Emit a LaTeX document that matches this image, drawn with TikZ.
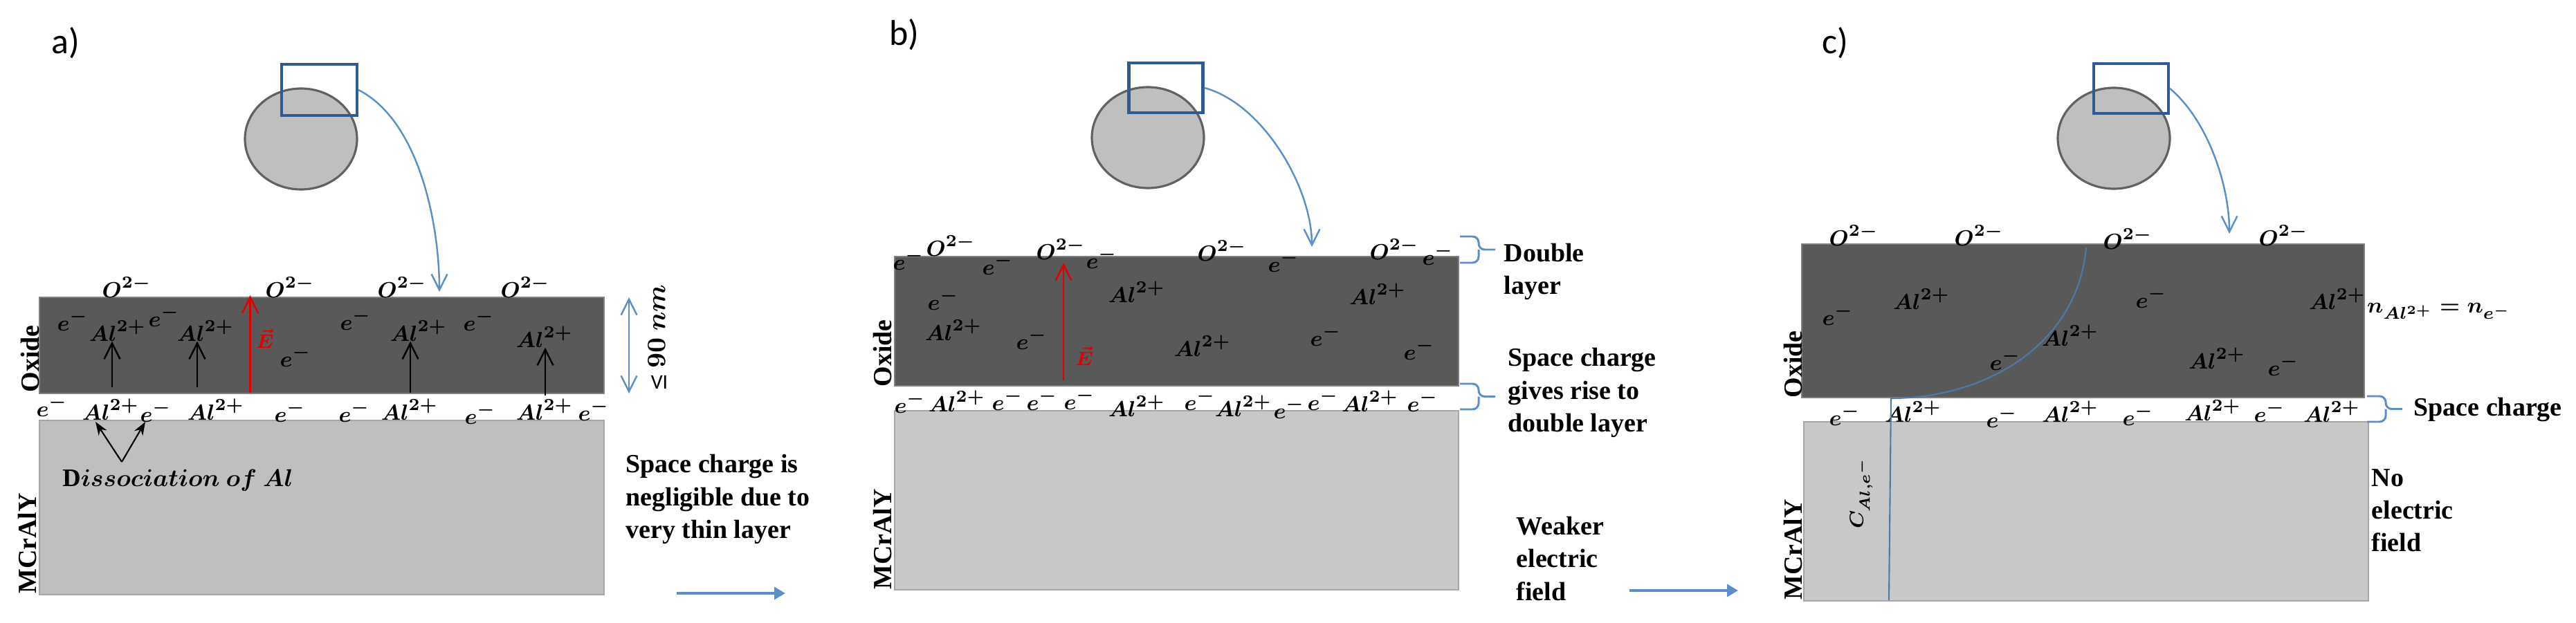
\documentclass[tikz,border=0pt]{standalone}
\usepackage{fontspec}
\setmainfont{Liberation Serif}
\newfontfamily\panelfont{Carlito}
\usetikzlibrary{arrows.meta,shapes.geometric}
\definecolor{oxidegray}{HTML}{595959}
\definecolor{metalgray}{HTML}{C8C8C8}
\definecolor{graingray}{HTML}{BFBFBF}
\definecolor{squareblue}{HTML}{2F5B94}
\definecolor{lineblue}{HTML}{5B8FC9}
\definecolor{fieldred}{HTML}{E00000}
\tikzset{
  oxidebox/.style={draw=gray,line width=0.5pt,fill=oxidegray,inner sep=0pt},
  metalbox/.style={draw=gray!70,line width=0.4pt,fill=metalgray,inner sep=0pt},
  grain/.style={ellipse,draw=black!62,line width=0.9pt,fill=graingray,inner sep=0pt,minimum width=1.62cm,minimum height=1.46cm},
  zoomsquare/.style={draw=squareblue,line width=1.15pt,inner sep=0pt},
  zoomline/.style={draw=lineblue,line width=0.7pt,-{Straight Barb[length=6.5pt,width=6.5pt]}},
  ionflow/.style={draw=black,line width=0.7pt,-{Straight Barb[length=6.5pt,width=6.5pt]}},
  fieldflow/.style={draw=fieldred,line width=0.7pt,-{Straight Barb[length=6.5pt,width=6.5pt]}},
  thickflow/.style={draw=lineblue,line width=1.4pt,-{Triangle[length=4.5pt,width=5pt]}},
  chargebrace/.style={draw=lineblue,line width=0.85pt,rounded corners=2.5pt},
  ion/.style={inner sep=0pt,font=\boldmath\fontsize{9.4}{11}\selectfont},
  fieldname/.style={inner sep=0pt,text=fieldred,font=\boldmath\fontsize{8}{10}\selectfont},
  note/.style={inner sep=0pt,anchor=west,align=left,font=\bfseries\fontsize{10.8}{13.4}\selectfont},
  layername/.style={inner sep=0pt,rotate=90,font=\bfseries\fontsize{10.8}{13}\selectfont},
  panelname/.style={inner sep=0pt,font=\panelfont\fontsize{14.8}{16}\selectfont}
}
\begin{document}
\begin{tikzpicture}
  \useasboundingbox (0,0) rectangle (37.23,9);

  % panel a
  \node (panelA)  [panelname] at (0.95,8.38) {a)};
  \node (grainA)  [grain] at (4.35,6.99) {};
  \node (squareA) [zoomsquare,minimum width=1.09cm,minimum height=0.74cm] at (4.615,7.70) {};
  \node (oxideA)  [oxidebox,minimum width=8.16cm,minimum height=1.39cm] at (4.65,4.005) {};
  \node (metalA)  [metalbox,fill=graingray,minimum width=8.16cm,minimum height=2.52cm] at (4.65,1.66) {};
  \node (oxnameA) [layername] at (0.435,3.81) {Oxide};
  \node (mcnameA) [layername] at (0.40,1.14) {MCrAlY};

  \node (OA1) [ion] at (1.83,4.85) {$O^{2-}$};
  \node (OA2) [ion] at (4.19,4.85) {$O^{2-}$};
  \node (OA3) [ion] at (5.81,4.85) {$O^{2-}$};
  \node (OA4) [ion] at (7.59,4.85) {$O^{2-}$};

  \node (eA1) [ion] at (1.05,4.37) {$e^-$};
  \node (eA2) [ion] at (2.37,4.43) {$e^-$};
  \node (eA3) [ion] at (4.27,3.85) {$e^-$};
  \node (eA4) [ion] at (5.14,4.38) {$e^-$};
  \node (eA5) [ion] at (6.92,4.37) {$e^-$};
  \node (AlA1) [ion] at (1.70,4.22) {$Al^{2+}$};
  \node (AlA2) [ion] at (2.97,4.22) {$Al^{2+}$};
  \node (AlA3) [ion] at (6.05,4.22) {$Al^{2+}$};
  \node (AlA4) [ion] at (7.87,4.13) {$Al^{2+}$};
  \node (fieldA) [fieldname] at (3.83,4.10) {$\vec{E}$};

  \node (eA6)  [ion] at (0.75,3.13) {$e^-$};
  \node (AlA5) [ion] at (1.60,3.08) {$Al^{2+}$};
  \node (eA7)  [ion] at (2.25,3.05) {$e^-$};
  \node (AlA6) [ion] at (3.12,3.08) {$Al^{2+}$};
  \node (eA8)  [ion] at (4.19,3.05) {$e^-$};
  \node (eA9)  [ion] at (5.12,3.05) {$e^-$};
  \node (AlA7) [ion] at (5.92,3.08) {$Al^{2+}$};
  \node (eA10) [ion] at (6.94,3.02) {$e^-$};
  \node (AlA8) [ion] at (7.87,3.08) {$Al^{2+}$};
  \node (eA11) [ion] at (8.58,3.07) {$e^-$};

  \node (dissocA) [ion,font=\boldmath\fontsize{10.4}{12}\selectfont] at (2.57,2.05) {\textbf{D}$issociation\ of\ Al$};
  \node (thickA) [ion,rotate=90,font=\boldmath\fontsize{11}{13}\selectfont] at (9.49,4.28) {$90\ nm$};
  \node (signA)  [inner sep=0pt,font=\panelfont\fontsize{8.5}{10}\selectfont] at (9.53,3.47) {VI};
  \node (noteA)  [note] at (9.04,1.78) {Space charge is\\negligible due to\\very thin layer};

  \coordinate (tipA)    at (6.35,4.78);
  \coordinate (flowA1)  at (1.62,3.40);
  \coordinate (flowA2)  at (2.85,3.40);
  \coordinate (flowA3)  at (5.93,3.32);
  \coordinate (flowA4)  at (7.88,3.28);
  \coordinate (redA1)   at (3.615,3.32);
  \coordinate (redA2)   at (3.615,4.73);
  \coordinate (spanA1)  at (9.09,4.70);
  \coordinate (spanA2)  at (9.09,3.31);
  \coordinate (rootA)   at (1.76,2.32);
  \coordinate (leftA)   at (1.38,2.90);
  \coordinate (rightA)  at (2.10,2.90);
  \coordinate (goA1)    at (9.78,0.42);
  \coordinate (goA2)    at (11.35,0.42);

  \draw [zoomline]  (squareA.east) to[out=-27,in=90,looseness=0.8] (tipA);
  \draw [ionflow]   (flowA1) -- (flowA1 |- AlA1.south);
  \draw [ionflow]   (flowA2) -- (flowA2 |- AlA2.south);
  \draw [ionflow]   (flowA3) -- (flowA3 |- AlA3.south);
  \draw [ionflow]   (flowA4) -- (flowA4 |- AlA4.south);
  \draw [fieldflow] (redA1) -- (redA2);
  \draw [draw=lineblue,line width=0.7pt,{Straight Barb[length=6.5pt,width=6.5pt]}-{Straight Barb[length=6.5pt,width=6.5pt]}] (spanA1) -- (spanA2);
  \draw [draw=black,line width=0.6pt,-{Stealth[length=5.5pt,width=4pt]}] (rootA) -- (leftA);
  \draw [draw=black,line width=0.6pt,-{Stealth[length=5.5pt,width=4pt]}] (rootA) -- (rightA);
  \draw [thickflow] (goA1) -- (goA2);

  % panel b
  \node (panelB)  [panelname] at (13.07,8.50) {b)};
  \node (grainB)  [grain] at (16.59,7.01) {};
  \node (squareB) [zoomsquare,minimum width=1.07cm,minimum height=0.72cm] at (16.85,7.73) {};
  \node (oxideB)  [oxidebox,minimum width=8.15cm,minimum height=1.87cm] at (17.005,4.355) {};
  \node (metalB)  [metalbox,minimum width=8.15cm,minimum height=2.59cm] at (17.005,1.765) {};
  \node (oxnameB) [layername] at (12.76,3.89) {Oxide};
  \node (mcnameB) [layername] at (12.76,1.20) {MCrAlY};

  \node (OB1) [ion] at (13.74,5.45) {$O^{2-}$};
  \node (OB2) [ion] at (15.33,5.40) {$O^{2-}$};
  \node (OB3) [ion] at (17.66,5.38) {$O^{2-}$};
  \node (OB4) [ion] at (20.15,5.40) {$O^{2-}$};

  \node (eB1) [ion] at (13.13,5.25) {$e^-$};
  \node (eB2) [ion] at (14.42,5.18) {$e^-$};
  \node (eB3) [ion] at (15.92,5.27) {$e^-$};
  \node (eB4) [ion] at (18.55,5.22) {$e^-$};
  \node (eB5) [ion] at (20.78,5.32) {$e^-$};
  \node (eB6) [ion] at (13.63,4.67) {$e^-$};
  \node (eB7) [ion] at (14.91,4.10) {$e^-$};
  \node (eB8) [ion] at (19.16,4.15) {$e^-$};
  \node (eB9) [ion] at (20.51,3.95) {$e^-$};
  \node (AlB1) [ion] at (16.43,4.78) {$Al^{2+}$};
  \node (AlB2) [ion] at (19.91,4.75) {$Al^{2+}$};
  \node (AlB3) [ion] at (13.78,4.23) {$Al^{2+}$};
  \node (AlB4) [ion] at (17.38,4.00) {$Al^{2+}$};
  \node (fieldB) [fieldname] at (15.67,3.85) {$\vec{E}$};

  \node (eB10) [ion] at (13.15,3.18) {$e^-$};
  \node (AlB5) [ion] at (13.83,3.20) {$Al^{2+}$};
  \node (eB11) [ion] at (14.56,3.22) {$e^-$};
  \node (eB12) [ion] at (15.06,3.22) {$e^-$};
  \node (eB13) [ion] at (15.60,3.23) {$e^-$};
  \node (AlB6) [ion] at (16.43,3.13) {$Al^{2+}$};
  \node (eB14) [ion] at (17.34,3.22) {$e^-$};
  \node (AlB7) [ion] at (17.97,3.13) {$Al^{2+}$};
  \node (eB15) [ion] at (18.63,3.10) {$e^-$};
  \node (eB16) [ion] at (19.12,3.22) {$e^-$};
  \node (AlB8) [ion] at (19.80,3.20) {$Al^{2+}$};
  \node (eB17) [ion] at (20.56,3.20) {$e^-$};

  \node (noteB1) [note] at (21.73,5.07) {Double\\layer};
  \node (noteB2) [note] at (21.79,3.32) {Space charge\\gives rise to\\double layer};
  \node (noteB3) [note] at (21.91,0.92) {Weaker\\electric\\field};

  \coordinate (tipB)    at (18.96,5.43);
  \coordinate (redB1)   at (15.37,3.50);
  \coordinate (redB2)   at (15.37,5.20);
  \coordinate (braceB1) at (21.10,5.58);
  \coordinate (braceB2) at (21.10,3.45);
  \coordinate (goB1)    at (23.55,0.46);
  \coordinate (goB2)    at (25.12,0.46);

  \draw [zoomline]  (squareB.east) to[out=-15,in=90,looseness=0.8] (tipB);
  \draw [fieldflow] (redB1) -- (redB2);
  \draw [chargebrace] (braceB1) -- ++(0.27,0) -- ++(0,-0.19) -- ++(0.24,0) ++(-0.24,0) -- ++(0,-0.19) -- ++(-0.27,0);
  \draw [chargebrace] (braceB2) -- ++(0.27,0) -- ++(0,-0.185) -- ++(0.24,0) ++(-0.24,0) -- ++(0,-0.185) -- ++(-0.27,0);
  \draw [thickflow] (goB1) -- (goB2);

  % panel c
  \node (panelC)  [panelname] at (26.52,8.38) {c)};
  \node (grainC)  [grain] at (30.55,7.00) {};
  \node (squareC) [zoomsquare,minimum width=1.08cm,minimum height=0.72cm] at (30.80,7.72) {};
  \node (oxideC)  [oxidebox,minimum width=8.13cm,minimum height=2.22cm] at (30.105,4.36) {};
  \node (metalC)  [metalbox,minimum width=8.16cm,minimum height=2.59cm] at (30.15,1.605) {};
  \node (oxnameC) [layername] at (25.91,3.73) {Oxide};
  \node (mcnameC) [layername] at (25.91,1.05) {MCrAlY};

  \node (OC1) [ion] at (26.79,5.60) {$O^{2-}$};
  \node (OC2) [ion] at (28.60,5.60) {$O^{2-}$};
  \node (OC3) [ion] at (30.75,5.55) {$O^{2-}$};
  \node (OC4) [ion] at (33.00,5.60) {$O^{2-}$};

  \node (eC1) [ion] at (26.56,4.45) {$e^-$};
  \node (eC2) [ion] at (31.09,4.70) {$e^-$};
  \node (eC3) [ion] at (28.98,3.80) {$e^-$};
  \node (eC4) [ion] at (33.00,3.72) {$e^-$};
  \node (AlC1) [ion] at (27.77,4.68) {$Al^{2+}$};
  \node (AlC2) [ion] at (33.78,4.68) {$Al^{2+}$};
  \node (AlC3) [ion] at (29.92,4.15) {$Al^{2+}$};
  \node (AlC4) [ion] at (32.04,3.82) {$Al^{2+}$};

  \node (eC5)  [ion] at (26.66,3.00) {$e^-$};
  \node (AlC5) [ion] at (27.65,3.05) {$Al^{2+}$};
  \node (eC6)  [ion] at (28.93,2.97) {$e^-$};
  \node (AlC6) [ion] at (29.92,3.05) {$Al^{2+}$};
  \node (eC7)  [ion] at (30.90,3.00) {$e^-$};
  \node (AlC7) [ion] at (31.98,3.07) {$Al^{2+}$};
  \node (eC8)  [ion] at (32.80,3.05) {$e^-$};
  \node (AlC8) [ion] at (33.70,3.05) {$Al^{2+}$};

  \node (balanceC) [ion] at (35.25,4.50) {$n_{Al^{2+}}=n_{e^-}$};
  \node (concC)    [ion,rotate=90,font=\boldmath\fontsize{8}{10}\selectfont] at (26.90,1.87) {$C_{Al,e^-}$};
  \node (noteC1)   [note] at (34.88,3.07) {Space charge};
  \node (noteC2)   [note] at (34.27,1.62) {No\\electric\\field};

  \coordinate (tipC)     at (32.22,5.62);
  \coordinate (profileC1) at (30.15,5.42);
  \coordinate (profileC2) at (27.33,3.24);
  \coordinate (profileC3) at (27.30,0.32);
  \coordinate (braceC1)  at (34.21,3.27);

  \draw [zoomline] (squareC.east) to[out=-40,in=90,looseness=0.8] (tipC);
  \draw [draw=lineblue!85!black,line width=0.6pt] (profileC1) to[out=-95,in=0] (profileC2) -- (profileC3);
  \draw [chargebrace] (braceC1) -- ++(0.27,0) -- ++(0,-0.185) -- ++(0.24,0) ++(-0.24,0) -- ++(0,-0.185) -- ++(-0.27,0);
\end{tikzpicture}
\end{document}
